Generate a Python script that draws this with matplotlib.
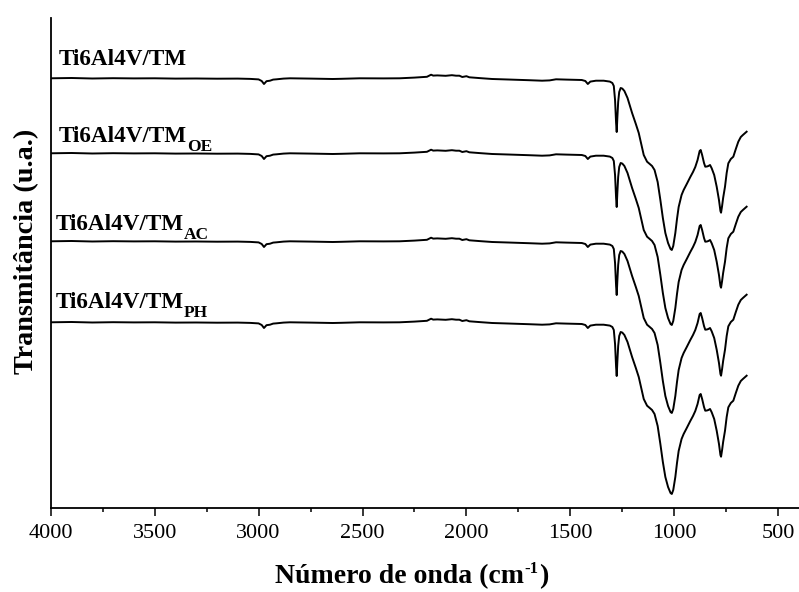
import matplotlib.pyplot as plt
from matplotlib.ticker import MultipleLocator

plt.rcParams['font.family'] = ['Liberation Serif', 'DejaVu Serif']

# FTIR spectrum (transmittance, arbitrary units) vs wavenumber in cm-1
wavenumber = [4000, 3900, 3800, 3700, 3600, 3500, 3400, 3300, 3200, 3100,
              3040, 3000, 2985, 2974, 2962, 2945, 2930, 2913, 2880, 2849,
              2750, 2643, 2600, 2514, 2400, 2322, 2250, 2190, 2170, 2160,
              2140, 2100, 2070, 2050, 2034, 2020, 2000, 1986, 1930, 1876,
              1800, 1700, 1636, 1600, 1569, 1520, 1445, 1428, 1416, 1404,
              1377, 1340, 1310, 1298, 1291, 1285, 1280, 1277, 1274, 1270,
              1265, 1258, 1250, 1240, 1225, 1203, 1185, 1171, 1147, 1131,
              1118, 1107, 1095, 1080, 1067, 1055, 1043, 1030, 1018, 1012,
              1005, 995, 987, 979, 965, 955, 940, 923, 910, 899,
              888, 878, 873, 866, 857, 851, 843, 836, 828, 820,
              808, 796, 785, 778, 775, 770, 765, 756, 748, 740,
              728, 716, 704, 692, 680, 670, 652]
transm = [99.7, 100.0, 99.5, 99.8, 99.6, 99.7, 99.4, 99.5, 99.3, 99.4,
          99.1, 98.6, 97.0, 94.0, 96.8, 97.3, 98.4, 98.7, 99.4, 99.7,
          99.4, 99.0, 99.2, 99.7, 99.6, 99.7, 100.4, 101.2, 103.3, 102.4,
          102.6, 102.2, 102.8, 102.3, 102.3, 101.0, 101.8, 100.7, 99.8, 99.0,
          98.5, 97.8, 97.3, 97.6, 98.7, 98.4, 98.0, 97.0, 94.0, 96.4,
          97.3, 97.3, 96.4, 95.0, 92.0, 78.0, 55.0, 46.0, 60.0, 76.0,
          86.0, 90.0, 89.4, 87.0, 80.0, 65.0, 54.0, 45.0, 23.0, 16.3,
          14.0, 12.0, 8.0, -4.0, -22.0, -40.0, -55.0, -65.0, -71.0, -72.0,
          -68.0, -55.0, -41.0, -29.0, -17.0, -12.0, -6.0, 1.0, 6.0, 11.0,
          18.0, 27.0, 28.0, 23.0, 15.0, 11.3, 11.5, 12.0, 13.0, 9.7,
          3.0, -8.7, -22.0, -33.0, -34.7, -28.0, -20.0, -8.7, 5.0, 14.7,
          19.0, 21.3, 29.0, 36.3, 41.0, 43.0, 46.3]

samples = ['Ti6Al4V/TM', 'Ti6Al4V/TM', 'Ti6Al4V/TM', 'Ti6Al4V/TM']
subscripts = ['', 'OE', 'AC', 'PH']
offsets = [0, -75, -163, -244]
label_x = [3960, 3960, 3975, 3975]
label_y = [113, 36.3, -52, -130]

fig = plt.figure(figsize=(7.99, 5.92), dpi=100)
ax = fig.add_axes([0.0635, 0.1424, 0.9365, 0.8272])

for off in offsets:
    ax.plot(wavenumber, [t + off for t in transm], color='black', lw=1.4)

for name, sub, lx, ly in zip(samples, subscripts, label_x, label_y):
    t = ax.text(lx, ly, name, fontsize=16.7, fontweight='bold', va='baseline')
    if sub:
        ax.annotate(sub, xy=(1, ly), xycoords=(t, 'data'), xytext=(0, -6.5),
                    textcoords='offset points', fontsize=12.5,
                    fontweight='bold', va='baseline', ha='left')

ax.set_xlim(4000, 400)
ax.set_ylim(-329.7, 160)
ax.xaxis.set_major_locator(MultipleLocator(500))
ax.xaxis.set_minor_locator(MultipleLocator(250))
ax.set_xticks([4000, 3500, 3000, 2500, 2000, 1500, 1000, 500])
ax.set_yticks([])
ax.tick_params(axis='x', which='major', length=5.8, width=1.1, labelsize=16, pad=6)
ax.tick_params(axis='x', which='minor', length=2.9, width=1.1)
for side in ['top', 'right']:
    ax.spines[side].set_visible(False)
for side in ['left', 'bottom']:
    ax.spines[side].set_linewidth(1.3)

# axis titles
fig.text(27 / 799, 1 - 251.5 / 592, 'Transmitância (u.a.)', rotation=90,
         ha='center', va='center', fontsize=20.3, fontweight='bold')
xl = ax.annotate('Número de onda (cm', xy=(275 / 799, 1 - 577 / 592),
                 xycoords='figure fraction', ha='left', va='center',
                 fontsize=20, fontweight='bold', annotation_clip=False)
sup = ax.annotate('-1', xy=(1, 0), xycoords=xl, xytext=(0.5, 12),
                  textcoords='offset points', fontsize=12, fontweight='bold',
                  ha='left', va='baseline', annotation_clip=False)
ax.annotate(')', xy=(1, 0), xycoords=(sup, xl), ha='left', va='bottom',
            fontsize=20, fontweight='bold', annotation_clip=False)

fig.savefig('out.png', dpi=100)
